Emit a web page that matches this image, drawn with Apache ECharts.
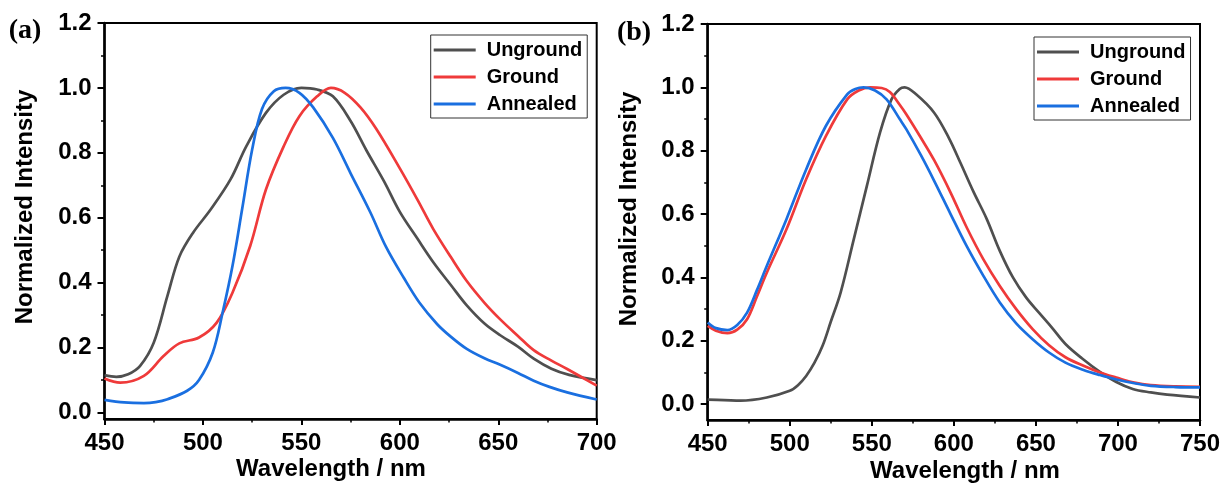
<!DOCTYPE html>
<html>
<head>
<meta charset="utf-8">
<script src="https://cdn.jsdelivr.net/npm/echarts@6/dist/echarts.min.js"></script>
<style>
html,body{margin:0;padding:0;background:#fff;}
#chart{width:1224px;height:488px;}
</style>
</head>
<body>
<div id="chart"></div>
<script>
// ---------- Data ----------
const seriesNames = ['Unground', 'Ground', 'Annealed'];

// Panel (a)
const aUngroundX = [450,456,462,468,475,482,488,495,504,514,522,532,541,550,558,566,575,583,592,600,609,617,626,634,643,651,660,668,677,686,700];
const aUngroundY = [0.115,0.11,0.118,0.143,0.215,0.36,0.48,0.554,0.626,0.718,0.82,0.923,0.979,1.0,0.995,0.974,0.898,0.808,0.712,0.618,0.535,0.463,0.392,0.33,0.274,0.238,0.203,0.166,0.135,0.116,0.10];

const aGroundX = [450,458,470,480,488,498,507,515,524,532,541,549,558,565,572,580,588,600,609,617,626,634,643,651,660,668,677,685,700];
const aGroundY = [0.105,0.092,0.113,0.174,0.213,0.231,0.277,0.369,0.513,0.687,0.82,0.913,0.974,1.0,0.985,0.94,0.874,0.752,0.655,0.565,0.478,0.405,0.338,0.287,0.236,0.192,0.16,0.134,0.083];

const aAnnealedX = [450,460,470,476,482,492,498,505,510,515,520,525,530,536,542,549,556,566,575,585,593,602,610,619,626,634,643,651,660,668,676,685,700];
const aAnnealedY = [0.039,0.031,0.029,0.032,0.041,0.067,0.1,0.185,0.308,0.451,0.63,0.81,0.935,0.99,1.0,0.985,0.94,0.846,0.737,0.617,0.51,0.415,0.338,0.272,0.233,0.196,0.167,0.147,0.122,0.098,0.079,0.062,0.04];

// Panel (b)
const bUngroundX = [450,460,470,486,500,505,510,515,520,525,531,539,547,555,562,567,570,577,588,597,604,612,620,628,636,644,652,660,668,678,689,699,709,720,730,750];
const bUngroundY = [0.014,0.013,0.011,0.021,0.042,0.06,0.089,0.13,0.184,0.26,0.352,0.52,0.689,0.857,0.962,0.995,1.0,0.978,0.92,0.84,0.762,0.67,0.585,0.484,0.4,0.337,0.288,0.24,0.19,0.145,0.102,0.07,0.048,0.037,0.03,0.021];

const bGroundX = [450,455,462,468,474,480,486,498,510,522,535,542,549,556,561,567,571,580,588,598,608,618,628,638,648,658,668,679,689,699,710,720,735,750];
const bGroundY = [0.247,0.232,0.224,0.235,0.268,0.34,0.415,0.552,0.71,0.846,0.962,0.99,1.0,0.998,0.985,0.945,0.915,0.84,0.77,0.668,0.556,0.457,0.373,0.30,0.237,0.186,0.148,0.121,0.1,0.084,0.068,0.06,0.056,0.055];

const bAnnealedX = [450,455,462,468,474,480,486,498,510,522,535,540,545,552,559,567,571,580,588,598,608,618,628,638,648,658,668,679,689,699,710,720,735,750];
const bAnnealedY = [0.258,0.24,0.234,0.25,0.289,0.36,0.436,0.584,0.741,0.878,0.978,0.995,1.0,0.99,0.962,0.9,0.868,0.785,0.705,0.6,0.497,0.405,0.321,0.255,0.205,0.163,0.131,0.108,0.092,0.078,0.066,0.058,0.054,0.053];

// Axis tick values
const yMajorTicks = [0, 0.2, 0.4, 0.6, 0.8, 1.0, 1.2];
const yMinorTicks = [0.1, 0.3, 0.5, 0.7, 0.9, 1.1];
const aXRange = [450, 700];
const bXRange = [450, 750];
const aYRange = [-0.02, 1.2];
const bYRange = [-0.05, 1.2];

// ---------- Styles ----------
const colors = ['#4f4f4f', '#ef3a3a', '#1a6fe0'];
const SANS = '"Liberation Sans", Arial, sans-serif';
const SERIF = '"Liberation Serif", "Times New Roman", serif';

function zip(xs, ys) { return xs.map((x, i) => [x, ys[i]]); }

function xAxisCfg(gridIndex, range) {
  return {
    type: 'value', gridIndex: gridIndex, min: range[0], max: range[1], interval: 50,
    axisLine: { show: true, onZero: false, lineStyle: { color: '#000', width: 2.5 } },
    axisTick: { show: true, inside: false, length: 6, lineStyle: { color: '#000', width: 2 } },
    minorTick: { show: true, splitNumber: 2, length: 3.5, lineStyle: { color: '#000', width: 1.5 } },
    splitLine: { show: false },
    axisLabel: { color: '#000', fontSize: 24, fontWeight: 'bold', fontFamily: SANS, margin: 12 }
  };
}
function yAxisMain(gridIndex, range) {
  return {
    type: 'value', gridIndex: gridIndex, min: range[0], max: range[1],
    axisLine: { show: true, onZero: false, lineStyle: { color: '#000', width: 2.5 } },
    axisTick: { show: true, inside: false, length: 7, customValues: yMajorTicks, lineStyle: { color: '#000', width: 2 } },
    splitLine: { show: false },
    axisLabel: { color: '#000', fontSize: 24, fontWeight: 'bold', fontFamily: SANS, margin: 13,
      customValues: yMajorTicks, formatter: v => v.toFixed(1) }
  };
}
function yAxisMinor(gridIndex, range) {
  return {
    type: 'value', gridIndex: gridIndex, min: range[0], max: range[1], position: 'left',
    axisLine: { show: false },
    axisTick: { show: true, inside: false, length: 3.5, customValues: yMinorTicks, lineStyle: { color: '#000', width: 1.5 } },
    splitLine: { show: false },
    axisLabel: { show: false }
  };
}
function lineSeries(name, data, xi, yi, ci) {
  return {
    name: name, type: 'line', xAxisIndex: xi, yAxisIndex: yi, data: data,
    smooth: 0.35, showSymbol: false, symbol: 'none',
    lineStyle: { color: colors[ci], width: 2.7 }, itemStyle: { color: colors[ci] },
    animation: false
  };
}
function legendCfg(left, top) {
  return {
    orient: 'vertical', left: left, top: top, icon: 'rect', itemWidth: 42, itemHeight: 3, itemGap: 7,
    borderColor: '#333', borderWidth: 1, padding: [5, 5, 4, 3], backgroundColor: '#fff',
    selectedMode: false,
    textStyle: { color: '#000', fontSize: 20, fontWeight: 'bold', fontFamily: SANS, lineHeight: 19, padding: [0, 0, 0, 6] },
    data: seriesNames
  };
}
function txt(text, x, y, size, family, rot) {
  return {
    type: 'text', x: x, y: y, rotation: rot || 0, silent: true,
    style: { text: text, fill: '#000', font: 'bold ' + size + 'px ' + family,
      textAlign: 'center', textVerticalAlign: 'middle', align: 'center', verticalAlign: 'middle' }
  };
}

const chart = echarts.init(document.getElementById('chart'), null, { renderer: 'canvas' });
chart.setOption({
  backgroundColor: '#fff',
  animation: false,
  grid: [
    { left: 104.5, top: 23, width: 492.2, height: 396, show: true, borderColor: '#000', borderWidth: 2, backgroundColor: 'transparent' },
    { left: 707.7, top: 24, width: 492.3, height: 396, show: true, borderColor: '#000', borderWidth: 2, backgroundColor: 'transparent' }
  ],
  xAxis: [xAxisCfg(0, aXRange), xAxisCfg(1, bXRange)],
  yAxis: [yAxisMain(0, aYRange), yAxisMinor(0, aYRange), yAxisMain(1, bYRange), yAxisMinor(1, bYRange)],
  legend: [legendCfg(430.7, 35), legendCfg(1034, 37)],
  series: [
    lineSeries('Unground', zip(aUngroundX, aUngroundY), 0, 0, 0),
    lineSeries('Ground', zip(aGroundX, aGroundY), 0, 0, 1),
    lineSeries('Annealed', zip(aAnnealedX, aAnnealedY), 0, 0, 2),
    lineSeries('Unground', zip(bUngroundX, bUngroundY), 1, 2, 0),
    lineSeries('Ground', zip(bGroundX, bGroundY), 1, 2, 1),
    lineSeries('Annealed', zip(bAnnealedX, bAnnealedY), 1, 2, 2)
  ],
  graphic: [
    txt('(a)', 25, 31, 28, SERIF),
    txt('(b)', 634, 33, 28, SERIF),
    txt('Normalized Intensity', 25, 207, 24, SANS, Math.PI / 2),
    txt('Normalized Intensity', 629, 209, 24, SANS, Math.PI / 2),
    txt('Wavelength / nm', 331, 469, 24, SANS),
    txt('Wavelength / nm', 965, 471, 24, SANS)
  ]
});
</script>
</body>
</html>
